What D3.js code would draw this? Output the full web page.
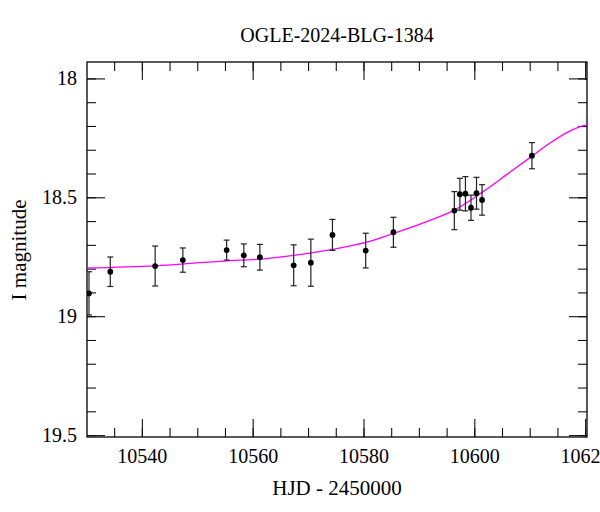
<!DOCTYPE html>
<html>
<head>
<meta charset="utf-8">
<script src="https://cdn.jsdelivr.net/npm/d3@7"></script>
<style>
  body { margin: 0; background: #fff; }
  svg { display: block; }
  text { font-family: "Liberation Serif", "DejaVu Serif", serif; fill: #000; }
</style>
</head>
<body>
<svg id="chart" width="600" height="512"></svg>
<script>
// ---- data ----
const title = "OGLE-2024-BLG-1384";
const xLabel = "HJD - 2450000";
const yLabel = "I magnitude";

const hjd = [10530.46, 10534.3, 10542.4, 10547.4, 10555.3, 10558.4, 10561.3, 10567.4, 10570.5,
             10574.4, 10580.4, 10585.4, 10596.4, 10597.4, 10598.4, 10599.4, 10600.4, 10601.4, 10610.4];
const mag = [18.904, 18.813, 18.789, 18.764, 18.722, 18.744, 18.752, 18.786, 18.775,
             18.658, 18.724, 18.647, 18.556, 18.487, 18.485, 18.544, 18.483, 18.511, 18.325];
const magErr = [0.091, 0.062, 0.084, 0.051, 0.042, 0.048, 0.054, 0.086, 0.099,
                0.065, 0.073, 0.063, 0.080, 0.067, 0.072, 0.053, 0.067, 0.064, 0.055];

// model curve
const modelHjd = [10530.1, 10542.4, 10555.3, 10561.3, 10567.4, 10574.4, 10580.4, 10585.4, 10592.0,
                  10596.2, 10601.6, 10606.4, 10610.3, 10613.6, 10616.7, 10619.1, 10620.4];
const modelMag = [18.797, 18.788, 18.767, 18.760, 18.744, 18.719, 18.690, 18.652, 18.597,
                  18.556, 18.476, 18.395, 18.329, 18.273, 18.228, 18.203, 18.194];

const xMajorTicks = [10540, 10560, 10580, 10600, 10620];
const xMinorTicks = d3.range(10535, 10621, 5);
const yMajorTicks = [18, 18.5, 19, 19.5];
const yTickLabels = ["18", "18.5", "19", "19.5"];
const yMinorTicks = d3.range(0, 16).map(i => +(18 + i * 0.1).toFixed(1));

// ---- layout ----
const svg = d3.select("#chart");
const L = 87, R = 587, T = 62, B = 437;

const x = d3.scaleLinear().domain([10530.1, 10620.34]).range([L, R]);
const y = d3.scaleLinear().domain([17.931, 19.508]).range([T, B]);

const majLen = 18, minLen = 9;

function styleAxis(g) {
  g.select(".domain").remove();
  g.selectAll(".tick line").attr("stroke", "#111").attr("stroke-width", 1.1);
  g.selectAll("text").style("font-size", "20px").style("font-family", '"Liberation Serif", serif').attr("fill", "#000");
}

// bottom axis
svg.append("g").attr("transform", `translate(0,${B})`)
  .call(d3.axisBottom(x).tickValues(xMinorTicks).tickSize(-minLen).tickFormat(""))
  .call(styleAxis);
svg.append("g").attr("transform", `translate(0,${B})`)
  .call(d3.axisBottom(x).tickValues(xMajorTicks).tickSize(-majLen).tickPadding(12).tickFormat(d3.format("d")))
  .call(styleAxis);
// top axis
svg.append("g").attr("transform", `translate(0,${T})`)
  .call(d3.axisTop(x).tickValues(xMinorTicks).tickSize(-minLen).tickFormat(""))
  .call(styleAxis);
svg.append("g").attr("transform", `translate(0,${T})`)
  .call(d3.axisTop(x).tickValues(xMajorTicks).tickSize(-majLen).tickFormat(""))
  .call(styleAxis);
// left axis
svg.append("g").attr("transform", `translate(${L},0)`)
  .call(d3.axisLeft(y).tickValues(yMinorTicks).tickSize(-minLen).tickFormat(""))
  .call(styleAxis);
svg.append("g").attr("transform", `translate(${L},0)`)
  .call(d3.axisLeft(y).tickValues(yMajorTicks).tickSize(-majLen).tickPadding(10)
        .tickFormat((d, i) => yTickLabels[i]))
  .call(styleAxis);
// right axis
svg.append("g").attr("transform", `translate(${R},0)`)
  .call(d3.axisRight(y).tickValues(yMinorTicks).tickSize(-minLen).tickFormat(""))
  .call(styleAxis);
svg.append("g").attr("transform", `translate(${R},0)`)
  .call(d3.axisRight(y).tickValues(yMajorTicks).tickSize(-majLen).tickFormat(""))
  .call(styleAxis);

// frame
svg.append("rect").attr("x", L).attr("y", T).attr("width", R - L).attr("height", B - T)
  .attr("fill", "none").attr("stroke", "#000").attr("stroke-width", 1.3);

// clip
svg.append("clipPath").attr("id", "clip").append("rect")
  .attr("x", L).attr("y", T).attr("width", R - L).attr("height", B - T);

const plot = svg.append("g").attr("clip-path", "url(#clip)");

// model curve
const model = modelHjd.map((d, i) => [d, modelMag[i]]);
plot.append("path").datum(model)
  .attr("fill", "none").attr("stroke", "#ff00ff").attr("stroke-width", 1.3)
  .attr("d", d3.line().x(d => x(d[0])).y(d => y(d[1])).curve(d3.curveMonotoneX));

// data points
const pts = hjd.map((d, i) => ({ t: d, m: mag[i], e: magErr[i] }));
const cap = 3;
const eb = plot.append("g").attr("stroke", "#222").attr("stroke-width", 1.2);
pts.forEach(p => {
  const cx = x(p.t), y1 = y(p.m - p.e), y2 = y(p.m + p.e);
  eb.append("line").attr("x1", cx).attr("x2", cx).attr("y1", y1).attr("y2", y2);
  eb.append("line").attr("x1", cx - cap).attr("x2", cx + cap).attr("y1", y1).attr("y2", y1);
  eb.append("line").attr("x1", cx - cap).attr("x2", cx + cap).attr("y1", y2).attr("y2", y2);
});
plot.append("g").selectAll("circle").data(pts).join("circle")
  .attr("cx", d => x(d.t)).attr("cy", d => y(d.m)).attr("r", 2.9).attr("fill", "#000");

// titles
svg.append("text").attr("x", 337).attr("y", 42).attr("text-anchor", "middle")
  .style("font-size", "20px").text(title);
svg.append("text").attr("x", 337).attr("y", 495).attr("text-anchor", "middle")
  .style("font-size", "21px").text(xLabel);
svg.append("text").attr("transform", "translate(26,250) rotate(-90)").attr("text-anchor", "middle")
  .style("font-size", "21px").text(yLabel);
</script>
</body>
</html>
